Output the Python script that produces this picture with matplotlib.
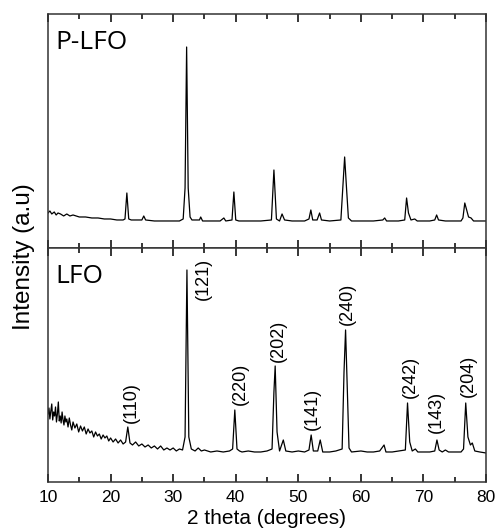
import matplotlib
matplotlib.use("Agg")
import matplotlib.pyplot as plt
from matplotlib.ticker import MultipleLocator

plt.rcParams['font.family'] = ['Liberation Sans', 'DejaVu Sans']

# P-LFO pattern (2 theta, intensity a.u.)
plfo_2theta = [10, 10.3, 10.6, 11, 11.3, 11.6, 12, 12.5, 13, 13.5, 14, 15, 16, 17, 18, 19, 20, 21, 22,
               22.3, 22.6, 22.9, 23.3, 24, 25, 25.3, 25.6, 27, 29, 31, 31.6, 31.9, 32.15, 32.4,
               32.7, 33, 34.2, 34.4, 34.7, 36, 37.5, 38.1, 38.4, 39.4, 39.7, 40.0, 40.5, 42, 44,
               45.7, 46.1, 46.5, 47.0, 47.4, 47.8, 49, 51, 51.7, 52.0, 52.3, 53, 53.4, 53.7, 55,
               56.8, 57.2, 57.4, 57.7, 58.0, 58.5, 60, 62, 63.5, 63.8, 64.1, 66, 67.0, 67.3,
               67.6, 68.0, 68.6, 69, 71, 71.8, 72.1, 72.4, 73.5, 76, 76.3, 76.6, 76.9, 77.2,
               77.6, 78, 80]
plfo_int = [35, 37, 34, 36, 33, 35, 34, 32, 34, 32, 33, 31, 31, 30, 30, 29, 29, 28, 28,
            29, 55, 29, 28, 28, 28, 32, 28, 27, 27, 27, 29, 60, 201, 60,
            31, 28, 28, 31, 27, 27, 27, 30, 27, 28, 56, 28, 27, 27, 27,
            28, 78, 29, 27, 34, 28, 27, 27, 29, 38, 28, 28, 35, 28, 27,
            28, 70, 91, 60, 30, 27, 27, 27, 28, 30, 27, 27, 28, 50,
            35, 28, 29, 27, 27, 28, 33, 28, 27, 27, 30, 45, 38, 31,
            30, 27, 27]

# LFO pattern
lfo_2theta = [10.0, 10.15, 10.3, 10.45, 10.6, 10.75, 10.9, 11.05, 11.2, 11.35, 11.5, 11.65, 11.8,
              11.95, 12.1, 12.25, 12.4, 12.55, 12.7, 12.85, 13.0, 13.2, 13.4, 13.6, 13.8, 14.0,
              14.3, 14.6, 14.9, 15.2, 15.5, 15.8, 16.1, 16.4, 16.7, 17.0, 17.3, 17.6, 17.9,
              18.2, 18.5, 18.8, 19.1, 19.4, 19.7, 20.0, 20.4, 20.8, 21.2, 21.6, 22.0, 22.4,
              22.75, 23.1, 23.5, 24, 24.5, 25, 25.5, 26, 26.5, 27, 27.5, 28, 28.5, 29, 29.5,
              30, 30.5, 31, 31.5, 31.9, 32.2, 32.5, 32.9, 33.5, 34, 34.5, 35, 36, 37, 38, 39,
              39.5, 39.85, 40.2, 40.6, 41, 42, 43, 44, 45, 45.8, 46.1, 46.3, 46.6, 47.0, 47.6,
              48.0, 49, 50, 51, 51.7, 52.05, 52.4, 53.1, 53.5, 53.9, 55, 56, 57.0, 57.3, 57.55,
              57.8, 58.1, 58.5, 60, 61, 62, 63, 63.7, 64.0, 65, 66, 67.1, 67.45, 67.8, 68.2,
              68.7, 69.1, 70, 71, 71.8, 72.15, 72.5, 73, 73.5, 74, 75, 76, 76.4, 76.75, 77.1,
              77.5, 77.8, 78.2, 79, 80]
lfo_int = [68, 74, 63, 71, 78, 62, 70, 66, 75, 60, 68, 80, 61,
           66, 59, 70, 62, 57, 66, 60, 63, 55, 64, 57, 52, 60,
           54, 58, 50, 56, 51, 55, 48, 53, 49, 51, 45, 50, 46,
           48, 43, 47, 44, 46, 41, 44, 40, 43, 39, 42, 38, 40,
           55, 39, 37, 40, 36, 38, 35, 37, 34, 36, 33, 36, 32, 34, 32,
           34, 31, 33, 32, 45, 212, 45, 33, 31, 34, 31, 32, 30, 31, 30, 31,
           33, 72, 33, 31, 30, 31, 30, 30, 31, 33, 90, 116, 50, 31, 42,
           31, 30, 31, 30, 32, 47, 31, 31, 42, 30, 30, 31, 33, 110, 152,
           100, 34, 30, 31, 30, 30, 31, 37, 30, 30, 31, 32, 79, 40, 31,
           33, 30, 30, 30, 31, 42, 32, 30, 32, 30, 30, 30, 33, 79, 45,
           37, 39, 31, 30, 29]

# Miller index labels for LFO
hkl = ['(110)', '(121)', '(220)', '(202)', '(141)', '(240)', '(242)', '(143)', '(204)']
hkl_x = [23.4, 34.9, 40.7, 46.8, 52.2, 57.9, 67.9, 72.1, 77.1]
hkl_y = [59, 182, 77, 120, 52, 157, 84, 49, 85]

fig = plt.figure(figsize=(4.97, 5.31), dpi=100)
ax_top = fig.add_axes([0.0966, 0.533, 0.8814, 0.4406])
ax_bot = fig.add_axes([0.0966, 0.0923, 0.8814, 0.4407], sharex=ax_top)

ax_top.plot(plfo_2theta, plfo_int, color='black', lw=0.9)
ax_bot.plot(lfo_2theta, lfo_int, color='black', lw=0.9)

for ax in (ax_top, ax_bot):
    ax.set_xlim(10, 80)
    ax.set_ylim(0, 234)
    ax.set_yticks([])
    ax.xaxis.set_major_locator(MultipleLocator(10))
    ax.xaxis.set_minor_locator(MultipleLocator(5))
    ax.tick_params(axis='x', which='major', direction='in', top=True, length=6, width=1.1,
                   labelsize=12.5, pad=6)
    ax.tick_params(axis='x', which='minor', direction='in', top=True, length=3.5, width=1.1)
    for s in ax.spines.values():
        s.set_linewidth(1.1)
        s.set_color('#333333')

ax_top.tick_params(axis='x', which='both', labelbottom=False)

ax_top.text(0.016, 0.93, 'P-LFO', transform=ax_top.transAxes, fontsize=19,
            family='Open Sans', va='top', ha='left')
ax_bot.text(0.016, 0.93, 'LFO', transform=ax_bot.transAxes, fontsize=19,
            family='Open Sans', va='top', ha='left')

for lab, x, y in zip(hkl, hkl_x, hkl_y):
    ax_bot.text(x, y, lab, rotation=90, ha='center', va='bottom', fontsize=13)

fig.text(0.536, 0.005, '2 theta (degrees)', ha='center', va='bottom', fontsize=15)
fig.text(0.048, 0.516, 'Intensity (a.u)', rotation=90, ha='center', va='center', fontsize=17.5)

fig.savefig('out.png', dpi=100)
